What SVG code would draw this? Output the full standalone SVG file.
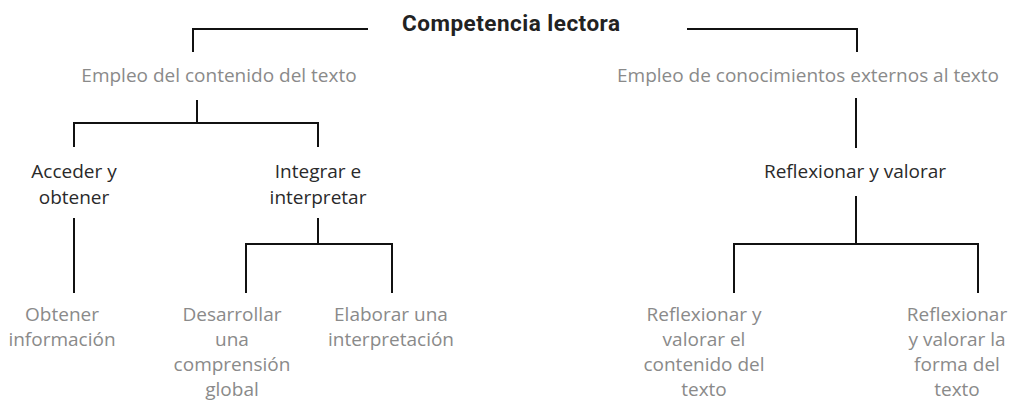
<svg xmlns="http://www.w3.org/2000/svg" width="1011" height="403" viewBox="0 0 1011 403">
<style>
.t{font-family:"Open Sans","Liberation Sans",sans-serif;font-size:19px;text-anchor:middle}
.d{fill:#2a2a2a}
.g{fill:#8a8a8a}
.h{font-family:Roboto,"Liberation Sans",sans-serif;font-weight:bold;font-size:22.5px;fill:#222;text-anchor:middle}
.c{fill:none;stroke:#111;stroke-width:2}
</style>
<rect width="1011" height="403" fill="#fff"/>
<g id="connectors">
<path class="c" d="M368 29H193V52M687 29H857V52"/>
<path class="c" d="M197 100V123M74 147V123H318V147"/>
<path class="c" d="M74 218V293"/>
<path class="c" d="M318 218V244M246 293V244H392V293"/>
<path class="c" d="M856 98V148"/>
<path class="c" d="M856 196V244M734 293V244H978V293"/>
</g>
<g id="root"><text class="h" x="511" y="31" textLength="218" lengthAdjust="spacing">Competencia lectora</text></g>
<g id="empleo-contenido"><text class="t g" x="219" y="82">Empleo del contenido del texto</text></g>
<g id="empleo-externos"><text class="t g" x="808" y="82">Empleo de conocimientos externos al texto</text></g>
<g id="acceder"><text class="t d" x="74" y="178">Acceder y</text><text class="t d" x="74" y="204">obtener</text></g>
<g id="integrar"><text class="t d" x="318" y="178">Integrar e</text><text class="t d" x="318" y="204">interpretar</text></g>
<g id="reflexionar"><text class="t d" x="855" y="178">Reflexionar y valorar</text></g>
<g id="obtener"><text class="t g" x="62" y="321">Obtener</text><text class="t g" x="62" y="346">información</text></g>
<g id="desarrollar"><text class="t g" x="232" y="321">Desarrollar</text><text class="t g" x="232" y="346">una</text><text class="t g" x="232" y="371">comprensión</text><text class="t g" x="232" y="396">global</text></g>
<g id="elaborar"><text class="t g" x="391" y="321">Elaborar una</text><text class="t g" x="391" y="346">interpretación</text></g>
<g id="reflex-contenido"><text class="t g" x="704" y="321">Reflexionar y</text><text class="t g" x="704" y="346">valorar el</text><text class="t g" x="704" y="371">contenido del</text><text class="t g" x="704" y="396">texto</text></g>
<g id="reflex-forma"><text class="t g" x="957" y="321">Reflexionar</text><text class="t g" x="957" y="346">y valorar la</text><text class="t g" x="957" y="371">forma del</text><text class="t g" x="957" y="396">texto</text></g>
</svg>
